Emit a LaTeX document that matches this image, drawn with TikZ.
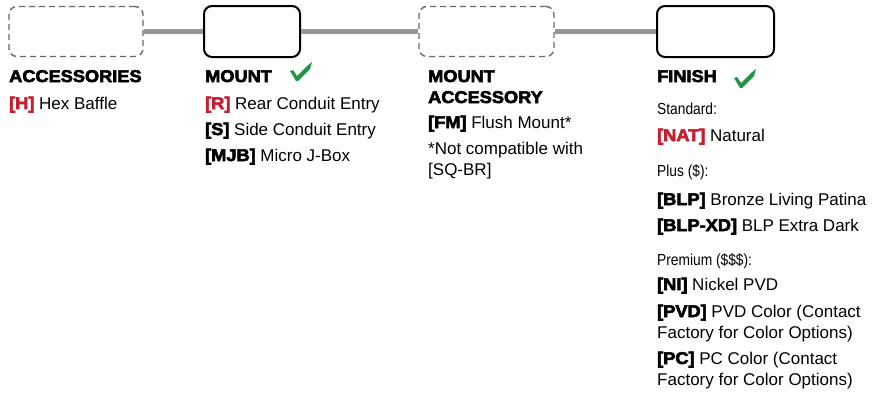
\documentclass[tikz,border=0pt]{standalone}
\usepackage{fontspec}
\setmainfont{Liberation Sans}
\newfontfamily\headfont{Liberation Sans Bold}[FakeStretch=1.07,FakeBold=3.5]
\newfontfamily\narrowfont{Liberation Sans}[FakeStretch=0.86]
\usetikzlibrary{
	positioning
}
\definecolor{codered}{RGB}{196,30,48}
\definecolor{okgreen}{RGB}{30,150,70}
\definecolor{linkgray}{RGB}{150,150,150}
\definecolor{dashgray}{RGB}{105,105,105}
\newcommand{\code}[1]{{\headfont[#1]}}
\newcommand{\redcode}[1]{{\headfont\color{codered}[#1]}}

\begin{document}
\begin{tikzpicture}[
		x=1pt, y=-1pt,
		chosen/.style={draw, line width=2pt, rounded corners=8pt, minimum width=#1, minimum height=51pt},
		optional/.style={draw=dashgray, line width=1.4pt, dash pattern=on 6pt off 4pt, rounded corners=8pt, minimum width=#1, minimum height=50pt},
		link/.style={draw=linkgray, line width=5pt},
		head/.style={anchor=base west, inner sep=0pt, font=\headfont\fontsize{17}{21}\selectfont},
		item/.style={anchor=base west, inner sep=0pt, font=\fontsize{17}{21}\selectfont},
		tier/.style={anchor=base west, inner sep=0pt, font=\narrowfont\fontsize{16}{20}\selectfont},
		okmark/.pic={\fill[okgreen] (-7,-10) -- (-4,-11) -- (0,-5) -- (10,-15) -- (15,-19) -- (13,-12) -- (1,0) -- (-1,0) -- cycle;}
		]
		\useasboundingbox (0,0) rectangle (872,392);
		
		% Option boxes
		\node[optional=134pt] (accessories) at (76,31.5) {};
		\node[chosen=96pt] (mount) at (252,31.5) {};
		\node[optional=135pt] (mountacc) at (486.5,31.5) {};
		\node[chosen=117pt] (finish) at (715.5,31.5) {};
		
		% Links
		\draw[link] (accessories) -- (mount);
		\draw[link] (mount) -- (mountacc);
		\draw[link] (mountacc) -- (finish);
		
		% Accessories
		\node[head] (accT) at (9,82) {ACCESSORIES};
		\node[item] (accH) at (9,109) {\redcode{H} Hex Baffle};
		
		% Mount
		\node[head] (mntT) at (205,82) {MOUNT};
		\pic at (297,81) {okmark};
		\node[item] (mntR) at (205,109) {\redcode{R} Rear Conduit Entry};
		\node[item] (mntS) at (205,135) {\code{S} Side Conduit Entry};
		\node[item] (mntJ) at (205,161) {\code{MJB} Micro J-Box};
		
		% Mount accessory
		\node[head] (maT) at (428,82) {MOUNT};
		\node[head] (maT2) at (428,103) {ACCESSORY};
		\node[item] (maFM) at (428,128) {\code{FM} Flush Mount*};
		\node[item] (maNote) at (428,154) {*Not compatible with};
		\node[item] (maNote2) at (428,175) {[SQ-BR]};
		
		% Finish
		\node[head] (finT) at (657,82) {FINISH};
		\pic at (741,88) {okmark};
		\node[tier] (std) at (657,114) {Standard:};
		\node[item] (nat) at (657,141) {\redcode{NAT} Natural};
		\node[tier] (plus) at (657,176) {Plus (\$):};
		\node[item] (blp) at (657,205) {\code{BLP} Bronze Living Patina};
		\node[item] (blpxd) at (657,231) {\code{BLP-XD} BLP Extra Dark};
		\node[tier] (prem) at (657,265) {Premium (\$\$\$):};
		\node[item] (ni) at (657,290) {\code{NI} Nickel PVD};
		\node[item] (pvd) at (657,317) {\code{PVD} PVD Color (Contact};
		\node[item] (pvd2) at (657,338) {Factory for Color Options)};
		\node[item] (pc) at (657,364) {\code{PC} PC Color (Contact};
		\node[item] (pc2) at (657,385) {Factory for Color Options)};
		
	\end{tikzpicture}
\end{document}
